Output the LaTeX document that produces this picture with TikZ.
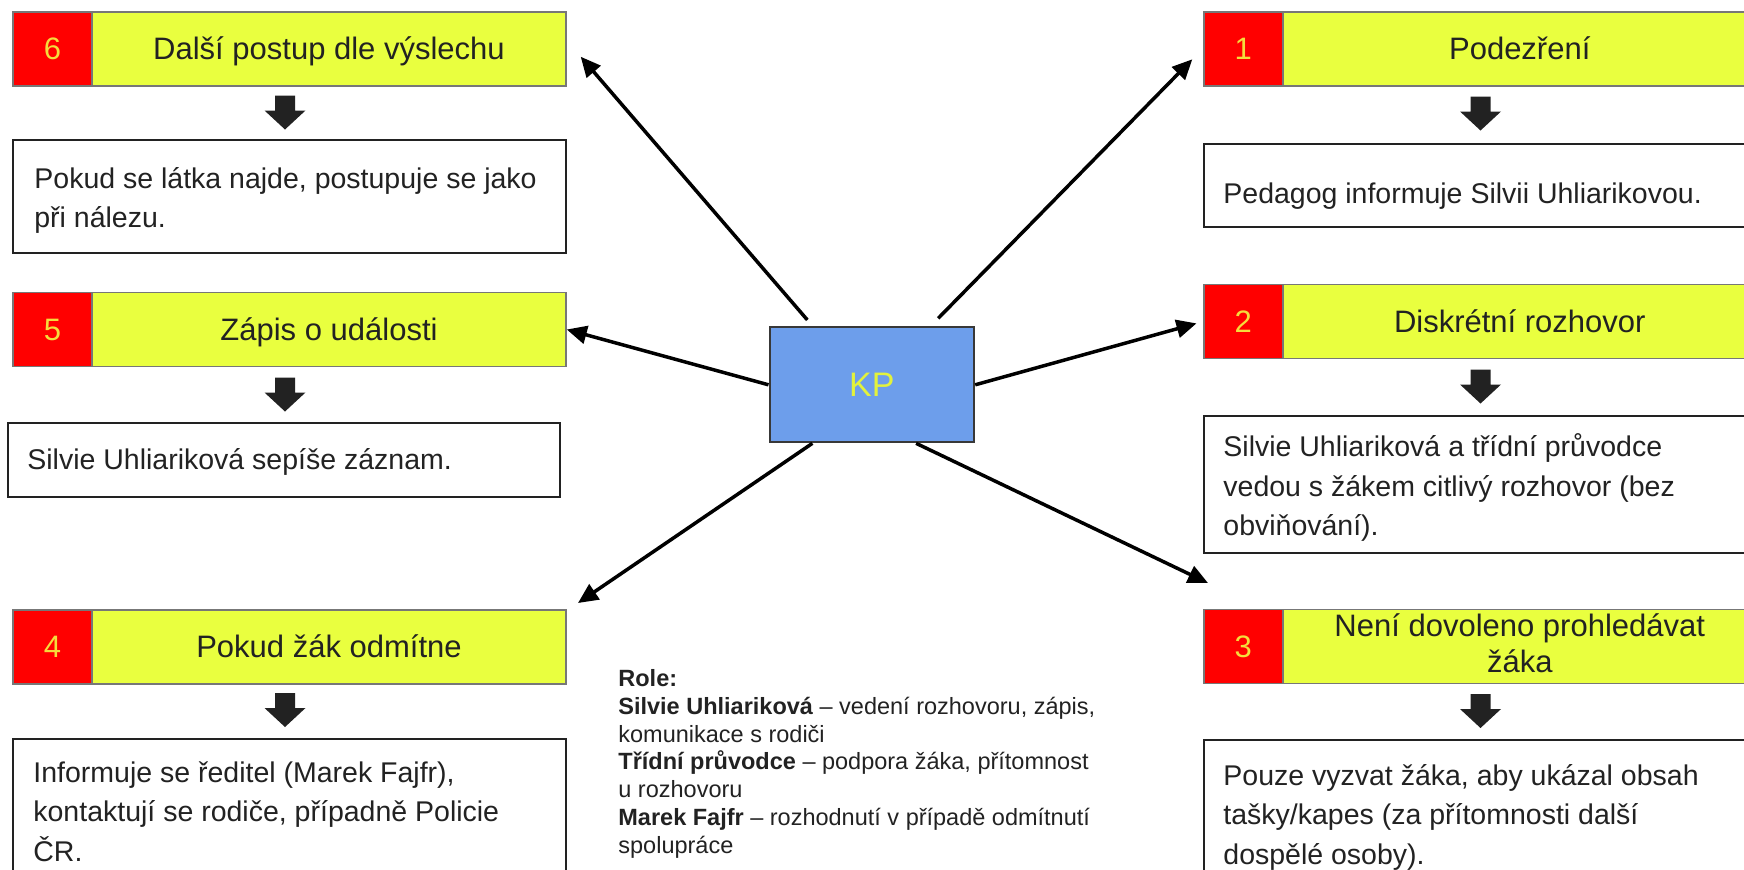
\documentclass[tikz,border=0pt]{standalone}
\usepackage{fontspec}
\setmainfont{Liberation Sans}
\usetikzlibrary{calc,arrows.meta}
\definecolor{hdryellow}{HTML}{E9FF3F}
\definecolor{hdrred}{HTML}{FF0000}
\definecolor{numcol}{HTML}{F5DC3C}
\definecolor{kpblue}{HTML}{6D9EEB}
\definecolor{kptext}{HTML}{E2F23C}
\definecolor{inkdark}{HTML}{222222}
\definecolor{hdrborder}{HTML}{777777}
\tikzset{
  hdr/.style={draw=hdrborder, line width=0.75pt, fill=hdryellow, minimum width=276.5pt, minimum height=37pt, inner sep=0pt},
  numbox/.style={draw=hdrborder, line width=0.75pt, fill=hdrred, minimum width=39.5pt, minimum height=37pt, inner sep=0pt},
  numtxt/.style={text=numcol, font=\fontsize{15.5}{18}\selectfont, inner sep=0pt, anchor=base},
  ttl/.style={text=inkdark, font=\fontsize{15.5}{17.8}\selectfont, inner sep=0pt, anchor=base, align=center},
  txtbox/.style={draw=inkdark, line width=1pt, fill=white, minimum width=276.5pt, inner sep=0pt},
  body/.style={text=inkdark, font=\fontsize{14.25}{19.75}\selectfont, inner sep=0pt, anchor=north west, align=left},
  kpbox/.style={draw=inkdark!90, line width=1pt, fill=kpblue, minimum width=102.35pt, minimum height=57.5pt, inner sep=0pt, text=kptext, font=\fontsize{17}{20}\selectfont},
  conn/.style={draw=black, line width=1.75pt, -{Triangle[length=10pt,width=9pt]}},
  roletxt/.style={text=inkdark, font=\fontsize{11.75}{13.9}\selectfont, inner sep=0pt, anchor=north west, align=left},
  blockarrow/.pic={\fill[inkdark] (-10,0) -- (10,0) -- (10,15) -- (20.5,15) -- (0,34) -- (-20.5,15) -- (-10,15) -- cycle;}
}
\begin{document}
\begin{tikzpicture}[x=0.5pt,y=-0.5pt]
\useasboundingbox (0,0) rectangle (1744,869);
\clip (0,0) rectangle (1744,869);
\fill[white] (0,0) rectangle (1744,869);

% ---- left column ----
\node[hdr] (h6) at (289.5,49) {};
\node[numbox] (n6) at (52.5,49) {};
\node[numtxt] (n6t) at (52.5,59.7) {6};
\node[ttl] (h6t) at (329,59.7) {Další postup dle výslechu};
\pic (a6) at (285,95.5) {blockarrow};
\node[txtbox, minimum height=56.5pt] (t6) at (289.5,196.5) {};
\node[body] (t6t) at (34,167) {Pokud se látka najde, postupuje se jako\\při nálezu.};

\node[hdr] (h5) at (289.5,329.5) {};
\node[numbox] (n5) at (52.5,329.5) {};
\node[numtxt] (n5t) at (52.5,340.2) {5};
\node[ttl] (h5t) at (329,340.2) {Zápis o události};
\pic (a5) at (285,377.5) {blockarrow};
\node[txtbox, minimum width=275.9pt, minimum height=37pt] (t5) at (283.6,459.7) {};
\node[body] (t5t) at (27,448) {Silvie Uhliariková sepíše záznam.};

\node[hdr] (h4) at (289.5,647) {};
\node[numbox] (n4) at (52.5,647) {};
\node[numtxt] (n4t) at (52.5,657.7) {4};
\node[ttl] (h4t) at (329,657.7) {Pokud žák odmítne};
\pic (a4) at (285,693) {blockarrow};
\node[txtbox, minimum height=80.5pt] (t4) at (289.5,819) {};
\node[body] (t4t) at (33,761.3) {Informuje se ředitel (Marek Fajfr),\\kontaktují se rodiče, případně Policie\\ČR.};

% ---- right column ----
\node[hdr] (h1) at (1480.5,49) {};
\node[numbox] (n1) at (1243.25,49) {};
\node[numtxt] (n1t) at (1243.25,59.7) {1};
\node[ttl] (h1t) at (1519.75,59.7) {Podezření};
\pic (a1) at (1480.5,96.5) {blockarrow};
\node[txtbox, minimum height=41.35pt] (t1) at (1480.5,185.35) {};
\node[body] (t1t) at (1223,182.6) {Pedagog informuje Silvii Uhliarikovou.};

\node[hdr] (h2) at (1480.5,321.5) {};
\node[numbox] (n2) at (1243.25,321.5) {};
\node[numtxt] (n2t) at (1243.25,332.2) {2};
\node[ttl] (h2t) at (1519.75,332.2) {Diskrétní rozhovor};
\pic (a2) at (1480.5,369.5) {blockarrow};
\node[txtbox, minimum height=68.65pt] (t2) at (1480.5,484.65) {};
\node[body] (t2t) at (1223,433.6) {Silvie Uhliariková a třídní průvodce\\vedou s žákem citlivý rozhovor (bez\\obviňování).};

\node[hdr] (h3) at (1480.5,646.7) {};
\node[numbox] (n3) at (1243.25,646.7) {};
\node[numtxt] (n3t) at (1243.25,657.4) {3};
\node[ttl] (h3t) at (1519.75,672.5) {Není dovoleno prohledávat\\žáka};
\pic (a3) at (1480.5,694) {blockarrow};
\node[txtbox, minimum height=80pt] (t3) at (1480.5,820) {};
\node[body] (t3t) at (1223,763.6) {Pouze vyzvat žáka, aby ukázal obsah\\tašky/kapes (za přítomnosti další\\dospělé osoby).};

% ---- centre ----
\node[kpbox] (kp) at (871.85,384.8) {KP};

\coordinate (e6) at (580.7,56.7);
\coordinate (e1) at (1192.3,59.3);
\coordinate (e4) at (578,603);
\coordinate (e3) at (1208,583);

\draw[conn, shorten <=4.2pt] ($(kp.north west)!0.2145!(kp.north east)$) -- (e6);
\draw[conn, shorten <=5.6pt] ($(kp.north west)!0.783!(kp.north east)$) -- (e1);
\draw[conn] (kp.west) -- (h5.east);
\draw[conn, shorten >=3.5pt] (kp.east) -- (h2.west);
\draw[conn] ($(kp.south west)!0.2125!(kp.south east)$) -- (e4);
\draw[conn] ($(kp.south west)!0.714!(kp.south east)$) -- (e3);

% ---- roles ----
\node[roletxt] (roles) at (618,669) {\textbf{Role:}\\\textbf{Silvie Uhliariková} – vedení rozhovoru, zápis,\\komunikace s rodiči\\\textbf{Třídní průvodce} – podpora žáka, přítomnost\\u rozhovoru\\\textbf{Marek Fajfr} – rozhodnutí v případě odmítnutí\\spolupráce};
\end{tikzpicture}
\end{document}
